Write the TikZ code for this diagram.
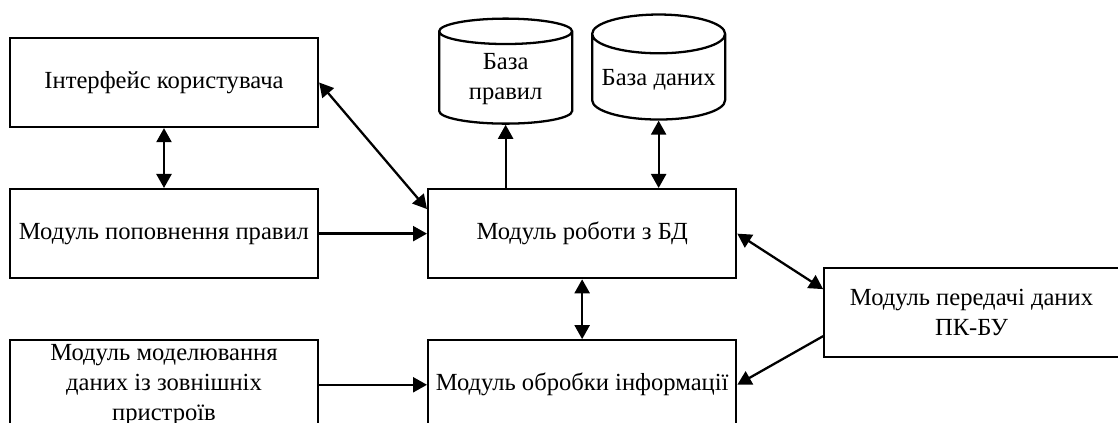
\documentclass[tikz,border=0pt]{standalone}
\usepackage{fontspec}
\setmainfont{Liberation Serif}
\usepackage{tikz}
\usetikzlibrary{arrows.meta,positioning,shapes.geometric,calc}
\tikzstyle{modul}=[draw, line width=1.3pt, text centered, align=center,
  minimum width=6.16cm, minimum height=1.78cm, inner sep=1pt]
\tikzstyle{peredacha}=[modul, minimum width=5.89cm]
\tikzstyle{baza}=[cylinder, shape border rotate=90, draw, line width=1.3pt,
  align=center, minimum width=2.66cm, minimum height=2.1cm, aspect=0.33, inner sep=1pt]
\tikzstyle{line}=[draw, line width=1.3pt, -{Triangle[length=0.28cm,width=0.3cm]}]
\tikzstyle{dline}=[line, {Triangle[length=0.28cm,width=0.3cm]}-{Triangle[length=0.28cm,width=0.3cm]}]
\newcommand{\modul}[2]{node (p#1)[modul]{#2}}
\newcommand{\pered}[2]{node (p#1)[peredacha]{#2}}
\newcommand{\baza}[2]{node (b#1)[baza]{#2}}

\begin{document}
\begin{tikzpicture}[font=\fontsize{14}{17}\selectfont]
	\useasboundingbox (0,0) rectangle (22.36,-8.46);

	% Draw diagram elements
	\path (3.28,-1.65) \modul{1}{Інтерфейс користувача};
	\path (p1.south)+(0,-2.11) \modul{2}{Модуль поповнення правил};
	\path (p2.south)+(0,-2.11) \modul{3}{Модуль моделювання\\даних із зовнішніх\\пристроїв};

	\path (p2.east)+(5.26,0) \modul{4}{Модуль роботи з БД};
	\path (p4.south)+(0,-2.11) \modul{5}{Модуль обробки інформації};
	\path (p4.east)+(4.685,-1.58) \pered{6}{Модуль передачі даних\\ПК-БУ};

	\path (p4.north)+(-1.53,2.17) \baza{1}{База\\правил};
	\path (p4.north)+(1.53,2.17) \baza{2}{База даних};

	% Draw arrows between elements
	\path [dline] (p1.south) -- (p2.north);
	\path [dline] (p1.east) -- (p4.171);
	\path [line] (p2.east) -- (p4.west);
	\path [line] (p3.east) -- (p5.west);
	\path [line] (p4.north -| b1) -- (b1);
	\path [dline] (p4.north -| b2) -- (b2);
	\path [dline] (p4.south) -- (p5.north);
	\path [dline] (p4.east) -- (p6.171);
	\path [line] (p6.189) -- (p5.east);

\end{tikzpicture}
\end{document}
